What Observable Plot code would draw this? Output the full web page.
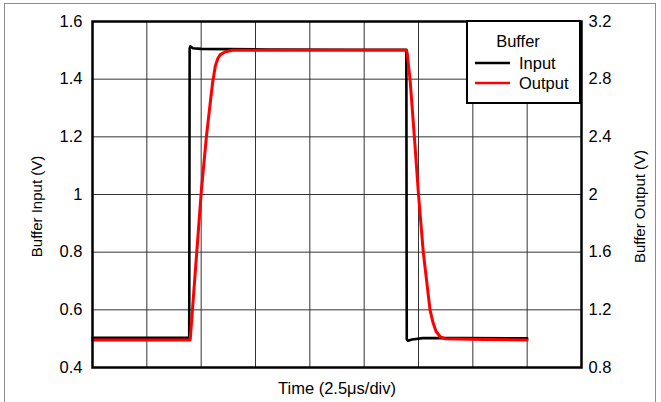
<!DOCTYPE html>
<html>
<head>
<meta charset="utf-8">
<script src="https://cdn.jsdelivr.net/npm/d3@7"></script>
<script src="https://cdn.jsdelivr.net/npm/@observablehq/plot@0.6"></script>
<style>
  html, body { margin: 0; padding: 0; background: #fff; overflow: hidden; }
  #wrap { position: relative; width: 661px; height: 402px; overflow: hidden; font-family: "Liberation Sans", Arial, sans-serif; }
  #outer { position: absolute; left: 4px; top: 3px; width: 652px; height: 420px; border: 1px solid #8c8c8c; box-sizing: border-box; }
  #chart { position: absolute; left: 0; top: 0; }
  #legend { position: absolute; left: 0; top: 0; pointer-events: none; }
</style>
</head>
<body>
<div id="wrap">
  <div id="outer"></div>
  <div id="chart"></div>
  <svg id="legend" width="661" height="402"></svg>
</div>
<script>
// Time in microseconds (2.5 µs per division)
const timeTicks = [0, 2.5, 5, 7.5, 10, 12.5, 15, 17.5, 20, 22.5];
const leftTicks = [0.4, 0.6, 0.8, 1.0, 1.2, 1.4, 1.6];
const rightTicks = [0.8, 1.2, 1.6, 2.0, 2.4, 2.8, 3.2];

// Buffer Input (V), left axis
const inputT = [0, 4.45, 4.47, 4.50, 4.62, 5.0, 8.0, 12.0, 14.44, 14.46, 14.52, 14.7, 15.2, 17.0, 20.0];
const inputV = [0.503, 0.503, 1.507, 1.514, 1.507, 1.505, 1.503, 1.502, 1.502, 0.497, 0.493, 0.497, 0.502, 0.502, 0.501];

// Buffer Output (V), right axis
const outputT = [0, 4.48, 4.50, 5.01, 5.24, 5.42, 5.53, 5.65, 5.77, 5.88, 6.11, 6.45, 10.0, 14.45, 14.48, 14.61, 14.81, 15.0, 15.22, 15.53, 15.67, 15.81, 15.99, 16.22, 18.0, 20.0];
const outputV = [0.99, 0.99, 1.0, 2.03, 2.40, 2.64, 2.78, 2.89, 2.945, 2.97, 2.99, 3.0, 3.0, 3.0, 2.98, 2.80, 2.40, 2.0, 1.6, 1.2, 1.11, 1.05, 1.015, 1.0, 0.995, 0.99];

const legendTitle = "Buffer";
const seriesNames = ["Input", "Output"];
const seriesColors = ["#000000", "#ff0000"];

const inputData = inputT.map((t, i) => ({t, v: inputV[i]}));
const outputData = outputT.map((t, i) => ({t, v: outputV[i]}));
const fmt = v => String(+(+v).toFixed(1));
const ratio = 2; // right axis = 2 x left axis

const chart = Plot.plot({
  width: 661,
  height: 402,
  marginLeft: 92,
  marginRight: 80,
  marginTop: 21,
  marginBottom: 35,
  x: {domain: [0, 22.5], axis: null},
  y: {domain: [0.4, 1.6], axis: null},
  style: {fontFamily: "'Liberation Sans', Arial, sans-serif", fontSize: "16px", background: "transparent", color: "black"},
  marks: [
    Plot.gridX(timeTicks, {stroke: "#333", strokeOpacity: 1, strokeWidth: 1}),
    Plot.gridY(leftTicks, {stroke: "#333", strokeOpacity: 1, strokeWidth: 1}),
    Plot.axisY(leftTicks, {anchor: "left", tickSize: 0, tickPadding: 10, tickFormat: fmt, label: null, fontSize: 16.5}),
    Plot.axisY(rightTicks.map(v => v / ratio), {anchor: "right", tickSize: 0, tickPadding: 7, tickFormat: v => fmt(v * ratio), label: null, fontSize: 16.5}),
    Plot.line(inputData, {x: "t", y: "v", stroke: seriesColors[0], strokeWidth: 2.6}),
    Plot.line(outputData, {x: "t", y: d => d.v / ratio, stroke: seriesColors[1], strokeWidth: 3}),
    Plot.frame({stroke: "black", strokeWidth: 2.5}),
    Plot.text(["Buffer Input (V)"], {frameAnchor: "left", text: d => d, rotate: -90, dx: -55, dy: 12, textAnchor: "middle", lineAnchor: "middle", fontSize: 15, fill: "black"}),
    Plot.text(["Buffer Output (V)"], {frameAnchor: "right", text: d => d, rotate: -90, dx: 59, dy: 12, textAnchor: "middle", lineAnchor: "middle", fontSize: 15, fill: "black"}),
    Plot.text(["Time (2.5\u03bcs/div)"], {frameAnchor: "bottom", text: d => d, dy: 21, textAnchor: "middle", lineAnchor: "middle", fontSize: 16.5, fill: "black"})
  ]
});
document.getElementById("chart").appendChild(chart);

// Legend box
const lg = d3.select("#legend");
lg.append("rect").attr("x", 467).attr("y", 21).attr("width", 113).attr("height", 82)
  .attr("fill", "white").attr("stroke", "black").attr("stroke-width", 2);
lg.append("text").attr("x", 518).attr("y", 47).attr("text-anchor", "middle")
  .attr("font-family", "'Liberation Sans', Arial, sans-serif").attr("font-size", 16.5).text(legendTitle);
seriesNames.forEach((name, i) => {
  const y = 63 + i * 20;
  lg.append("line").attr("x1", 475).attr("x2", 510).attr("y1", y).attr("y2", y)
    .attr("stroke", seriesColors[i]).attr("stroke-width", 2.5);
  lg.append("text").attr("x", 519).attr("y", y + 5.5)
    .attr("font-family", "'Liberation Sans', Arial, sans-serif").attr("font-size", 16.5).text(name);
});
</script>
</body>
</html>
